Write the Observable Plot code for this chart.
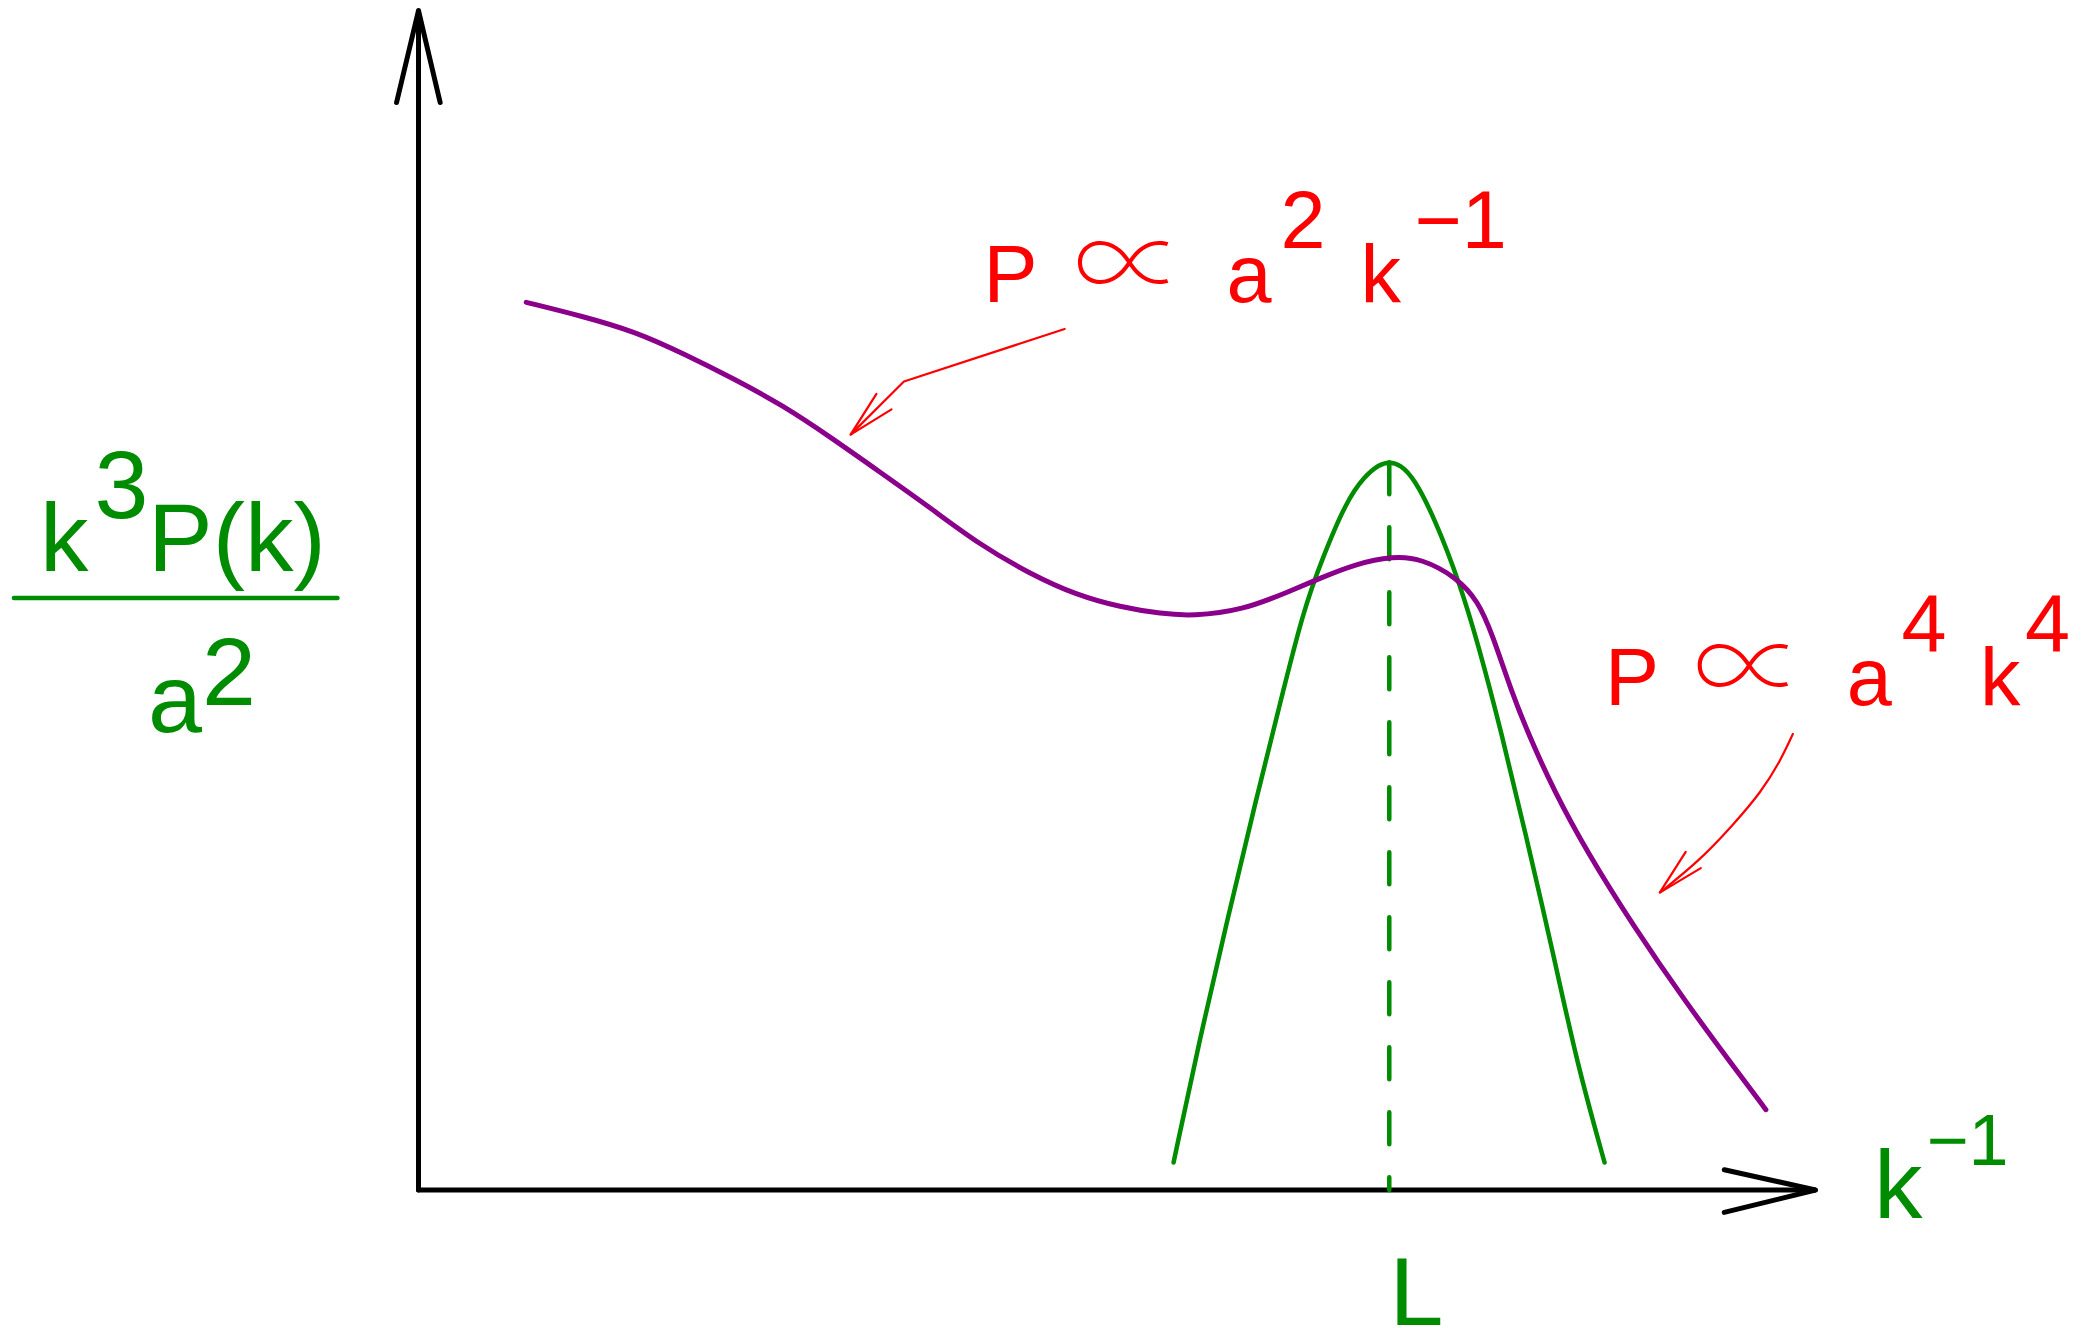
<!DOCTYPE html>
<html>
<head>
<meta charset="utf-8">
<script src="https://cdn.jsdelivr.net/npm/d3@7"></script>
<script src="https://cdn.jsdelivr.net/npm/@observablehq/plot@0.6"></script>
<style>
  html, body { margin: 0; padding: 0; background: #fff; }
  #chart svg { display: block; }
</style>
</head>
<body>
<div id="chart"></div>
<script>
// ---- Data (schematic units: x = k^-1, y = k^3 P(k) / a^2; axes run 0..100) ----
// Purple power spectrum curve
const purpleX = [7.71, 11.74, 15.54, 19.05, 22.56, 26.06, 29.56, 33.07, 36.58, 40.09, 43.88, 47.09, 50.25, 53.20, 55.40, 58.96, 62.33, 64.52, 67.06, 69.76, 71.79, 74.32, 75.84, 76.86, 78.21, 79.56, 81.25, 83.61, 86.99, 90.71, 94.09, 96.45];
const purpleY = [75.26, 74.08, 72.77, 70.86, 68.78, 66.54, 63.77, 60.83, 57.89, 54.77, 52.17, 50.45, 49.41, 48.85, 48.66, 49.14, 50.74, 51.86, 53.07, 53.74, 53.54, 51.94, 49.94, 47.14, 42.34, 38.34, 33.94, 28.73, 22.33, 15.93, 10.53, 6.81];
// Green peaked curve centred on L
const greenX = [54.05, 55.91, 57.94, 59.96, 61.65, 63.34, 64.70, 66.39, 67.74, 68.75, 69.49, 70.27, 71.28, 72.81, 74.50, 75.84, 77.53, 79.22, 81.25, 82.93, 84.90];
const greenY = [2.33, 12.73, 23.14, 33.13, 41.14, 49.14, 53.54, 58.35, 60.54, 61.50, 61.75, 61.50, 60.34, 56.75, 51.54, 46.34, 38.74, 30.34, 19.93, 10.73, 2.33];
// Peak position L
const peakL = {x: 69.49, y: 61.70};
// Red annotation pointers
const pointer1X = [46.25, 34.75, 30.93];
const pointer1Y = [73.00, 68.54, 64.04];
const pointer1HeadX = [32.78, 30.93, 33.86];
const pointer1HeadY = [67.49, 64.04, 66.18];
const pointer2X = [98.38, 97.47, 96.11, 94.09, 91.72, 88.85];
const pointer2Y = [38.66, 36.34, 33.73, 30.94, 27.94, 25.21];
const pointer2HeadX = [90.71, 88.85, 91.79];
const pointer2HeadY = [28.66, 25.21, 27.29];
// Axis arrows
const axisMax = 100;
const yArrowHeadX = [-1.57, 0, 1.55];
const yArrowHeadY = [92.2, 100, 92.2];
const xArrowHeadX = [93.47, 100, 93.47];
const xArrowHeadY = [1.72, 0, -1.90];
// Text pieces: [text, x, y]
const formula1 = [["P", 40.45, 75.30], ["a", 57.84, 75.30], ["2", 61.70, 79.88], ["k", 67.43, 75.30], ["\u22121", 71.30, 79.88]];
const formula1Prop = [["\u221D", 50.90, 75.05]];
const formula2 = [["P", 84.93, 41.08], ["a", 102.24, 41.08], ["4", 106.16, 45.63], ["k", 111.78, 41.08], ["4", 115.00, 45.63]];
const formula2Prop = [["\u221D", 95.25, 40.83]];
const yLabel = [["k", -27.09, 52.50], ["3", -23.19, 56.99], ["P(k)", -19.36, 52.50], ["a", -19.36, 38.84], ["2", -15.50, 41.09]];
const yLabelBarX = [-28.96, -5.80];
const yLabelBarY = 50.20;
const xLabelMain = [["k", 104.19, -2.40], ["L", 69.51, -11.45]];
const xLabelSup = [["\u22121", 107.95, 2.12]];

// ---- Build ----
const zip = (xs, ys) => xs.map((x, i) => ({x, y: Array.isArray(ys) ? ys[i] : ys}));
const pieces = arr => arr.map(([t, x, y]) => ({t, x, y}));

const RED = "#ff0000", GREEN = "#008c00", PURPLE = "#8b008b";
const FONT = "Liberation Sans, Arial, Helvetica, sans-serif";

const chart = Plot.plot({
  width: 2093,
  height: 1328,
  marginLeft: 418,
  marginRight: 278,
  marginTop: 10,
  marginBottom: 138.5,
  x: {domain: [0, axisMax], axis: null},
  y: {domain: [0, axisMax], axis: null},
  style: {background: "white", overflow: "visible"},
  marks: [
    // axes
    Plot.line(zip([0, 0], [0, axisMax]), {x: "x", y: "y", stroke: "black", strokeWidth: 5}),
    Plot.line(zip([0, axisMax], [0, 0]), {x: "x", y: "y", stroke: "black", strokeWidth: 5}),
    Plot.line(zip(yArrowHeadX, yArrowHeadY), {x: "x", y: "y", stroke: "black", strokeWidth: 5, strokeLinejoin: "miter"}),
    Plot.line(zip(xArrowHeadX, xArrowHeadY), {x: "x", y: "y", stroke: "black", strokeWidth: 5, strokeLinejoin: "miter"}),
    // dashed L marker
    Plot.line(zip([peakL.x, peakL.x], [peakL.y, 0]), {x: "x", y: "y", stroke: GREEN, strokeWidth: 4.5, strokeDasharray: "32,33"}),
    // curves
    Plot.line(zip(greenX, greenY), {x: "x", y: "y", stroke: GREEN, strokeWidth: 4.5, curve: "basis"}),
    Plot.line(zip(purpleX, purpleY), {x: "x", y: "y", stroke: PURPLE, strokeWidth: 5, curve: "basis"}),
    // red pointers
    Plot.line(zip(pointer1X, pointer1Y), {x: "x", y: "y", stroke: RED, strokeWidth: 2.2, strokeLinejoin: "miter"}),
    Plot.line(zip(pointer1HeadX, pointer1HeadY), {x: "x", y: "y", stroke: RED, strokeWidth: 2.2, strokeLinejoin: "miter"}),
    Plot.line(zip(pointer2X, pointer2Y), {x: "x", y: "y", stroke: RED, strokeWidth: 2.2, curve: "basis"}),
    Plot.line(zip(pointer2HeadX, pointer2HeadY), {x: "x", y: "y", stroke: RED, strokeWidth: 2.2, strokeLinejoin: "miter"}),
    // red formulas
    Plot.text(pieces(formula1.concat(formula2)), {x: "x", y: "y", text: "t", fill: RED, fontSize: 81, fontFamily: FONT, textAnchor: "start", lineAnchor: "bottom"}),
    Plot.text(pieces(formula1Prop.concat(formula2Prop)), {x: "x", y: "y", text: "t", fill: RED, fontSize: 112, fontWeight: 100, fontFamily: "Noto Sans CJK JP", textAnchor: "middle", lineAnchor: "bottom"}),
    // y label (fraction)
    Plot.text(pieces(yLabel), {x: "x", y: "y", text: "t", fill: GREEN, fontSize: 97, fontFamily: FONT, textAnchor: "start", lineAnchor: "bottom"}),
    Plot.line(zip(yLabelBarX, yLabelBarY), {x: "x", y: "y", stroke: GREEN, strokeWidth: 4.5}),
    // x label and L
    Plot.text(pieces(xLabelMain), {x: "x", y: "y", text: "t", fill: GREEN, fontSize: 97, fontFamily: FONT, textAnchor: "start", lineAnchor: "bottom"}),
    Plot.text(pieces(xLabelSup), {x: "x", y: "y", text: "t", fill: GREEN, fontSize: 72, fontFamily: FONT, textAnchor: "start", lineAnchor: "bottom"})
  ]
});
document.getElementById("chart").appendChild(chart);
</script>
</body>
</html>
